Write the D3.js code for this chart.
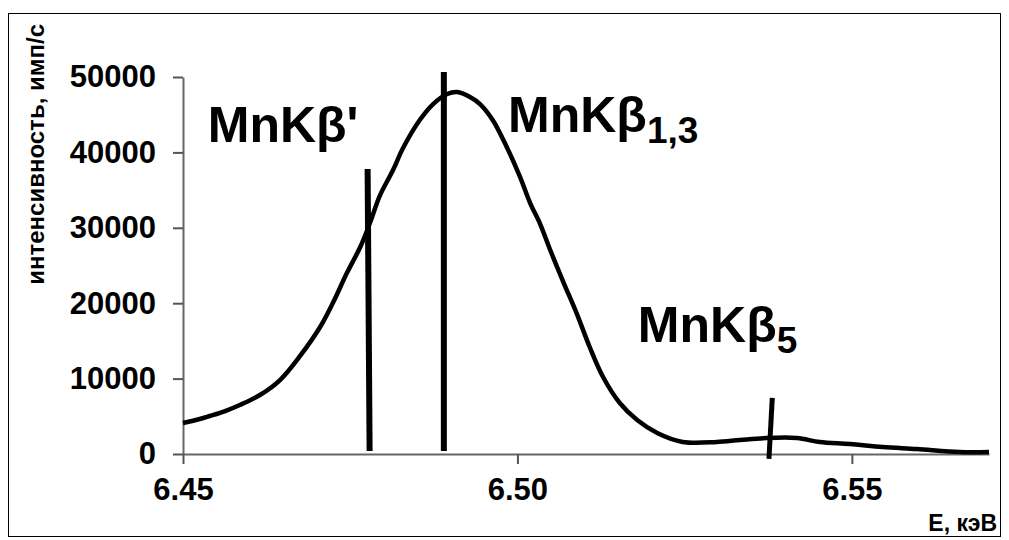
<!DOCTYPE html>
<html lang="ru">
<head>
<meta charset="UTF-8">
<title>MnKβ</title>
<script src="https://cdn.jsdelivr.net/npm/d3@7"></script>
<style>
  body { margin: 0; background: #fff; }
  svg text { font-family: "Liberation Sans", Arial, sans-serif; font-weight: bold; fill: #000; }
</style>
</head>
<body>
<svg id="chart" width="1009" height="540"></svg>
<script>
// spectrum: energy (keV) and intensity (counts/s)
var energy = [6.4500, 6.4525, 6.4540, 6.4563, 6.4585, 6.4615, 6.4645, 6.4675, 6.4705, 6.4724,
              6.4745, 6.4765, 6.4780, 6.4794, 6.4814, 6.4829, 6.4854, 6.4874, 6.4895, 6.4910,
              6.4929, 6.4944, 6.4963, 6.4984, 6.5004, 6.5019, 6.5034, 6.5049, 6.5068, 6.5089,
              6.5108, 6.5128, 6.5153, 6.5179, 6.5209, 6.5247, 6.5298, 6.5333, 6.5373, 6.5418,
              6.5452, 6.5497, 6.5546, 6.5597, 6.5661, 6.5705];
var intensity = [4110, 4640, 5040, 5700, 6500, 7820, 9810, 13000, 16840, 20020,
                 24000, 27450, 30760, 34210, 37660, 40580, 44290, 46410, 47740, 48000,
                 47340, 46410, 44290, 40710, 36730, 33280, 30500, 27050, 22940, 18560,
                 14190, 10210, 6760, 4510, 2780, 1590, 1590, 1860, 2120, 2120,
                 1590, 1330, 930, 660, 270, 270];

// line markers
var markerTopE = [6.4776, 6.4890, 6.5381];
var markerBotE = [6.4779, 6.4890, 6.5376];
var markerTop = [37800, 50650, 7430];
var markerBot = [400, 400, -660];

// peak labels: main text, subscript, anchor (energy, intensity)
var labelMain = ["MnKβ'", "MnKβ", "MnKβ"];
var labelSub = ["", "1,3", "5"];
var labelE = [6.4537, 6.4986, 6.5180];
var labelI = [41370, 42700, 14850];

var yTicks = [0, 10000, 20000, 30000, 40000, 50000];
var xTicks = [6.45, 6.50, 6.55];

var svg = d3.select("#chart");

// outer frame
svg.append("rect")
    .attr("x", 8.5).attr("y", 13.5)
    .attr("width", 992).attr("height", 523)
    .attr("fill", "none").attr("stroke", "#000").attr("stroke-width", 1);

var x = d3.scaleLinear().domain([6.45, 6.5705]).range([183, 989]);
var y = d3.scaleLinear().domain([0, 50000]).range([454, 77]);

var xAxis = svg.append("g")
    .attr("transform", "translate(0,454)")
    .call(d3.axisBottom(x).tickValues(xTicks).tickFormat(d3.format(".2f")).tickSize(10).tickSizeOuter(0));
var yAxis = svg.append("g")
    .attr("transform", "translate(183,0)")
    .call(d3.axisLeft(y).tickValues(yTicks).tickFormat(d3.format("d")).tickSize(10).tickSizeOuter(0));

[xAxis, yAxis].forEach(function (g) {
    g.select(".domain").attr("stroke", "#666").attr("stroke-width", 2);
    g.selectAll(".tick line").attr("stroke", "#555").attr("stroke-width", 2);
    g.selectAll(".tick text").style("font-size", "31px").attr("fill", "#000");
});
xAxis.selectAll(".tick text").attr("y", 46).attr("dy", 0);
yAxis.selectAll(".tick text").attr("x", -27);

// axis titles
svg.append("text")
    .attr("transform", "translate(44,24) rotate(-90)")
    .attr("text-anchor", "end")
    .style("font-size", "24px")
    .text("интенсивность, имп/с");
svg.append("text")
    .attr("x", 997).attr("y", 531)
    .attr("text-anchor", "end")
    .style("font-size", "23px")
    .text("Е, кэВ");

// spectrum curve
var line = d3.line()
    .x(function (d, i) { return x(energy[i]); })
    .y(function (d, i) { return y(intensity[i]); })
    .curve(d3.curveCatmullRom.alpha(0.5));

svg.append("path")
    .datum(energy)
    .attr("d", line)
    .attr("fill", "none")
    .attr("stroke", "#000")
    .attr("stroke-width", 4.5)
    .attr("stroke-linejoin", "round");

// vertical markers
svg.selectAll("line.marker")
    .data(markerTopE)
    .enter().append("line")
    .attr("class", "marker")
    .attr("x1", function (d) { return x(d); })
    .attr("x2", function (d, i) { return x(markerBotE[i]); })
    .attr("y1", function (d, i) { return y(markerTop[i]); })
    .attr("y2", function (d, i) { return y(markerBot[i]); })
    .attr("stroke", "#000")
    .attr("stroke-width", function (d, i) { return i == 2 ? 5 : 6; });

// peak labels
var labels = svg.selectAll("text.peak")
    .data(labelMain)
    .enter().append("text")
    .attr("class", "peak")
    .attr("x", function (d, i) { return x(labelE[i]); })
    .attr("y", function (d, i) { return y(labelI[i]); })
    .style("font-size", "50px");
labels.append("tspan").text(function (d) { return d; });
labels.append("tspan")
    .attr("dy", 11)
    .style("font-size", "37px")
    .text(function (d, i) { return labelSub[i]; });
</script>
</body>
</html>
